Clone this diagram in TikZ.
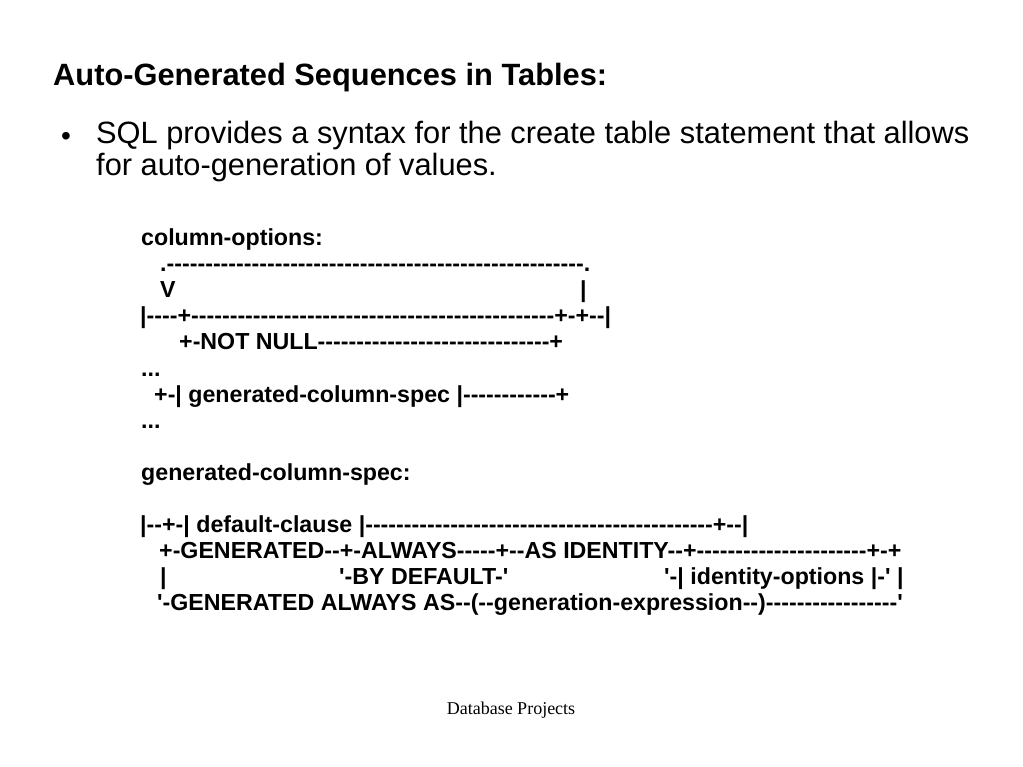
\documentclass[tikz,border=0pt]{standalone}
\usepackage{fontspec}
\setmainfont{Liberation Sans}
\newfontfamily\synfont{Liberation Sans}[Ligatures=TeXOff]
\newfontfamily\footfont{Liberation Serif}
\tikzstyle{heading}=[anchor=base west,inner sep=0pt,font=\fontsize{30.8}{36}\selectfont\bfseries]
\tikzstyle{bodytext}=[anchor=base west,inner sep=0pt,font=\fontsize{30.8}{36}\selectfont]
\tikzstyle{syntax}=[anchor=base west,inner sep=0pt,font=\synfont\fontsize{23.2}{26}\selectfont\bfseries]
\tikzstyle{footer}=[anchor=base,inner sep=0pt,font=\footfont\fontsize{18}{22}\selectfont]
\newcommand\dashrun[1]{\foreach \d in {1,...,#1}{-}}

\begin{document}
\begin{tikzpicture}[x=1pt,y=-1pt]
    \fill[white] (0,0) rectangle (1023,767);
    \useasboundingbox (0,0) rectangle (1023,767);

    % Title and the bullet
    \node[heading] (title) at (53,86) {Auto-Generated Sequences in Tables:};
    \node[bodytext,anchor=base,font=\fontsize{28}{32}\selectfont] (bullet) at (66,146) {\textbullet};
    \node[bodytext] (line1) at (96,144) {SQL provides a syntax for the create table statement that allows};
    \node[bodytext] (line2) at (96,176) {for auto-generation of values.};

    % column-options diagram
    \foreach \pos/\name/\label in {{(141,246)/copt/{column-options:}}, {(160,272)/loop/{.\dashrun{54}.}}, {(160,298)/vmark/V}, {(580,298)/vbar/|}, {(140,324)/rowbar/{|----+\dashrun{47}+-+--|}}, {(179,350)/notnull/{+-NOT NULL\dashrun{30}+}}, {(154,402)/gencol/{+-| generated-column-spec |\dashrun{12}+}}}
        \node[syntax] (\name) at \pos {\label};
    \node[syntax] (dotsa) at (141,376) {...};
    \node[syntax] (dotsb) at (141,428) {...};

    % generated-column-spec diagram
    \foreach \pos/\name/\label in {{(141,480)/gspec/{generated-column-spec:}}, {(140,532)/defcl/{|--+-| default-clause |\dashrun{45}+--|}}, {(159,558)/genrow/{+-GENERATED--+-ALWAYS-----+--AS IDENTITY--+\dashrun{22}+-+}}, {(160,584)/gbar/|}, {(339,584)/bydef/{'-BY DEFAULT-'}}, {(664,584)/idopt/{'-| identity-options |-' |}}, {(157,610)/genexp/{'-GENERATED ALWAYS AS--(--generation-expression--)\dashrun{17}'}}}
        \node[syntax] (\name) at \pos {\label};

    \node[footer] (foot) at (511,714) {Database Projects};
\end{tikzpicture}
\end{document}
